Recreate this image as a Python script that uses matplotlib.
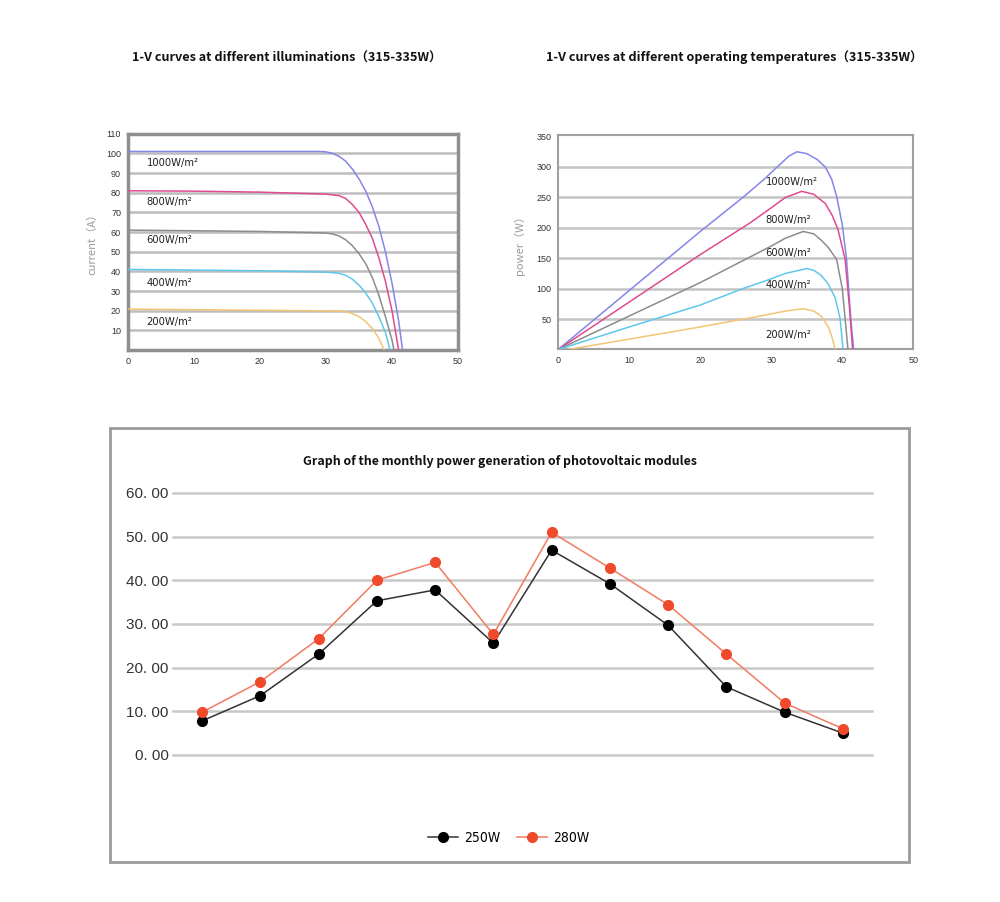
import matplotlib
matplotlib.use("Agg")
import matplotlib.pyplot as plt
from matplotlib.patches import Rectangle

plt.rcParams['font.family'] = ['Liberation Sans', 'DejaVu Sans']

# ---- I-V curves (voltage V, current A) ----
iv_labels = ['1000W/m²', '800W/m²', '600W/m²', '400W/m²', '200W/m²']
iv_colors = ['#8585ea', '#e04a90', '#8c8c8c', '#5ec8ec', '#f2c476']
iv_v = [
    [0, 29, 30, 31, 32, 33, 34, 35, 36, 37, 38, 39, 40, 41, 41.6],
    [0, 10, 20, 30, 32, 33, 34, 35, 36, 37, 38, 39, 40, 40.6, 41],
    [0, 20, 30, 31, 32, 33, 34, 35, 36, 37, 38, 39, 40, 40.3],
    [0, 20, 30, 32, 33, 34, 35, 36, 37, 38, 39, 39.7],
    [0, 20, 32, 33, 34, 35, 36, 37, 38, 38.8],
]
iv_i = [
    [101, 101, 100.8, 100, 98.5, 96, 92, 87, 81, 73, 63, 50, 34, 15, 0],
    [81, 80.8, 80.3, 79.3, 78.5, 77, 74, 70, 64, 57, 47, 35, 20, 8, 0],
    [61, 60.3, 59.5, 59, 58, 56, 53, 49, 44, 37, 28, 17, 5, 0],
    [41, 40.3, 39.6, 39, 38, 36, 33, 29, 24, 17, 9, 0],
    [20.8, 20.2, 19.8, 19.5, 18.5, 17, 14.5, 11, 6, 0],
]
iv_label_y = [95, 75.3, 55.7, 34, 14.3]

# ---- P-V curves (voltage V, power W) ----
pv_v = [
    [0, 10, 20, 26, 29, 31, 32.5, 33.6, 35, 36.5, 37.6, 38.5, 39.2, 40, 40.6, 41.2, 41.6],
    [0, 10, 20, 27, 30, 32, 34.3, 36, 37.6, 38.6, 39.4, 40.4, 41, 41.45],
    [0, 10, 20, 27, 30, 32, 34.5, 36, 37, 38, 39.2, 40, 40.4, 40.8],
    [0, 10, 20, 26, 29, 32, 35, 36, 37, 38, 39, 39.7, 40.1],
    [1.4, 10, 20, 28, 32, 34.5, 36, 37, 38, 38.5, 39],
]
pv_p = [
    [0, 97, 194, 250, 280, 302, 318, 325, 322, 312, 300, 280, 252, 205, 148, 50, 0],
    [0, 78, 156, 208, 233, 250, 260, 255, 240, 220, 197, 148, 70, 0],
    [0, 55, 110, 152, 170, 183, 194, 190, 180, 168, 148, 100, 50, 0],
    [0, 37, 73, 100, 112, 125, 133, 130, 122, 108, 85, 50, 0],
    [0, 17, 37, 54, 63, 67, 63, 55, 38, 22, 0],
]
pv_label_y = [276, 213, 158.6, 106.5, 24]

# ---- monthly generation ----
months = list(range(1, 13))
gen_250 = [7.8, 13.6, 23.1, 35.3, 37.8, 25.6, 46.9, 39.2, 29.7, 15.6, 9.8, 5.0]
gen_280 = [9.8, 16.8, 26.6, 40.0, 44.1, 27.6, 51.0, 42.8, 34.4, 23.1, 11.9, 6.0]
gen_ticks = [0, 10, 20, 30, 40, 50, 60]
gen_ticklabels = ['0. 00', '10. 00', '20. 00', '30. 00', '40. 00', '50. 00', '60. 00']

fig = plt.figure(figsize=(10, 9.02), dpi=100)
fig.patch.set_facecolor('white')

label_font = dict(family=['DejaVu Sans'], fontstretch='condensed', fontsize=8,
                  color='#222222')
title_font = dict(family=['Noto Sans CJK SC', 'DejaVu Sans'], fontsize=9.1,
                  fontweight='bold', color='#111111')

# top-left: I-V at different illuminations
ax1 = fig.add_axes([0.128, 0.612, 0.33, 0.2397])
for y in range(10, 101, 10):
    ax1.axhline(y, color='#bdbdbd', lw=1.8, zorder=1)
for v, i, c in zip(iv_v, iv_i, iv_colors):
    ax1.plot(v, i, color=c, lw=1.1, zorder=3)
for lab, y in zip(iv_labels, iv_label_y):
    ax1.text(2.8, y, lab, ha='left', va='center', **label_font)
ax1.set_xlim(0, 50)
ax1.set_ylim(0, 110)
ax1.set_xticks(range(0, 51, 10))
ax1.set_yticks(range(10, 111, 10))
for s in ax1.spines.values():
    s.set_color('#8f8f8f')
    s.set_linewidth(2.5)
ax1.tick_params(length=0, labelsize=6.5, colors='#333333', pad=5)
ax1.set_ylabel('current（A）', family=['Noto Sans CJK SC', 'DejaVu Sans'],
               fontsize=8, color='#9a9a9a', labelpad=6)

# top-right: P-V
ax2 = fig.add_axes([0.5583, 0.6126, 0.355, 0.238])
for y in range(50, 301, 50):
    ax2.axhline(y, color='#c4c4c4', lw=1.8, zorder=1)
for v, p, c in zip(pv_v, pv_p, iv_colors):
    ax2.plot(v, p, color=c, lw=1.1, zorder=3)
for lab, y in zip(iv_labels, pv_label_y):
    ax2.text(29.2, y, lab, ha='left', va='center', **label_font)
ax2.set_xlim(0, 50)
ax2.set_ylim(0, 353)
ax2.set_xticks(range(0, 51, 10))
ax2.set_yticks(range(50, 351, 50))
for s in ax2.spines.values():
    s.set_color('#a0a0a0')
    s.set_linewidth(1.5)
ax2.tick_params(length=0, labelsize=6.5, colors='#333333', pad=5)
ax2.set_ylabel('power（W）', family=['Noto Sans CJK SC', 'DejaVu Sans'],
               fontsize=8, color='#9a9a9a', labelpad=8)

fig.text(0.287, 0.935, '1-V curves at different illuminations（315-335W）',
         ha='center', va='center', **title_font)
fig.text(0.734, 0.937, '1-V curves at different operating temperatures（315-335W）',
         ha='center', va='center', **title_font)

# bottom: monthly power generation
fig.patches.append(Rectangle((0.110, 0.0443), 0.799, 0.481, transform=fig.transFigure,
                             fill=False, edgecolor='#9a9a9a', lw=2))
ax3 = fig.add_axes([0.173, 0.163, 0.699, 0.2905])
for y in gen_ticks:
    ax3.axhline(y, color='#c8c8c8', lw=1.8, zorder=1, clip_on=False)
ax3.plot(months, gen_250, color='#333333', lw=1.1, marker='o', markersize=7,
         markerfacecolor='black', markeredgecolor='black', label='250W', zorder=3)
ax3.plot(months, gen_280, color='#f27a62', lw=1.1, marker='o', markersize=7,
         markerfacecolor='#f04a2c', markeredgecolor='#f04a2c', label='280W', zorder=3)
ax3.set_xlim(0.5, 12.5)
ax3.set_ylim(0, 60)
ax3.set_xticks([])
ax3.set_yticks(gen_ticks)
ax3.set_yticklabels(gen_ticklabels)
for s in ax3.spines.values():
    s.set_visible(False)
ax3.tick_params(length=0, labelsize=11, colors='#333333', pad=3)
fig.text(0.5, 1 - 461 / 902, 'Graph of the monthly power generation of photovoltaic modules',
         ha='center', va='center', **dict(title_font, fontsize=8.9))
ax3.legend(loc='center', bbox_to_anchor=(0.48, -0.317), ncol=2, frameon=False,
           prop=dict(family='DejaVu Sans', stretch='condensed', size=10),
           handlelength=2.2, columnspacing=1.2, handletextpad=0.4)

fig.savefig('out.png', dpi=100, facecolor='white')
